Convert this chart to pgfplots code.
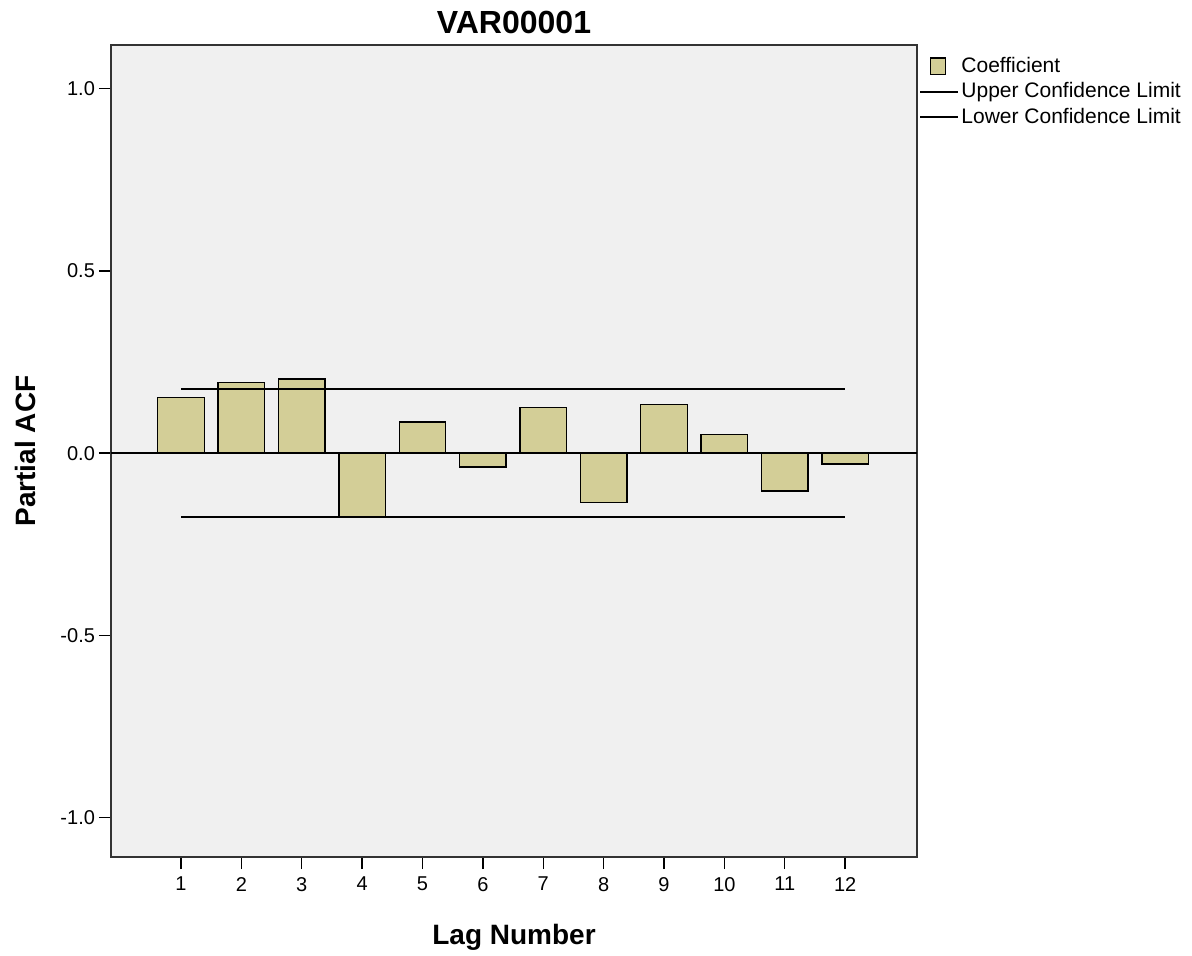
\documentclass[border=0pt]{standalone}
\usepackage{fontspec}
\setmainfont{Liberation Sans}
\usepackage{pgfplots}
\pgfplotsset{compat=1.18}
\definecolor{panel}{HTML}{F0F0F0}
\definecolor{coef}{HTML}{D3CE97}
\definecolor{frame}{HTML}{333333}
\pgfplotsset{
  linelegend/.style={legend image code/.code={\draw[##1] (0pt,0pt) -- (19pt,0pt);}},
  boxlegend/.style={legend image code/.code={\draw[##1] (5pt,-4pt) rectangle (12.5pt,4.2pt);}},
}

\begin{document}
\begin{tikzpicture}
\begin{axis}[
  scale only axis, width=403pt, height=406pt,
  xmin=-0.16, xmax=13.19, ymin=-1.108, ymax=1.12,
  axis background/.style={fill=panel},
  axis line style={frame, line width=0.8pt},
  xtick={1,...,12}, ytick={-1,-0.5,0,0.5,1},
  xtick pos=bottom, ytick pos=left,
  tick align=outside, major tick length=6pt,
  tick style={black, line width=0.7pt},
  /pgf/number format/assume math mode=true,
  yticklabel style={/pgf/number format/fixed, /pgf/number format/fixed zerofill, /pgf/number format/precision=1, xshift=1.5pt},
  xticklabel style={yshift=-0.5pt},
  tick label style={font=\fontsize{10}{12}\selectfont},
  title={VAR00001},
  every axis title shift=0pt,
  title style={at={([yshift=11.5pt]axis description cs:0.5,1)}, anchor=center, font=\bfseries\fontsize{16}{18}\selectfont},
  xlabel={Lag Number}, ylabel={Partial ACF},
  xlabel style={at={([yshift=-40pt]axis description cs:0.5,0)}, anchor=center, font=\bfseries\fontsize{14}{16}\selectfont},
  ylabel style={at={([xshift=-43pt]axis description cs:0,0.5)}, anchor=center, font=\bfseries\fontsize{14}{16}\selectfont},
  legend style={at={(axis description cs:1,1)}, anchor=north west, xshift=0pt, yshift=-3pt, draw=none, fill=none,
    font=\fontsize{10.5}{12}\selectfont, row sep=-0.5pt, inner sep=1pt,
    nodes={inner xsep=1pt}},
  legend cell align=left,
]
\addplot[ybar, bar width=0.77, fill=coef, draw=black, line width=0.7pt, boxlegend]
  coordinates {(1,0.153) (2,0.194) (3,0.204) (4,-0.173) (5,0.086) (6,-0.038)
               (7,0.125) (8,-0.135) (9,0.134) (10,0.052) (11,-0.104) (12,-0.030)};
\addlegendentry{Coefficient}
\addplot[black, line width=1pt, forget plot] coordinates {(-0.16,0) (13.19,0)};
\addplot[black, line width=1pt, linelegend] coordinates {(1,0.175) (12,0.175)};
\addlegendentry{Upper Confidence Limit}
\addplot[black, line width=1pt, linelegend] coordinates {(1,-0.175) (12,-0.175)};
\addlegendentry{Lower Confidence Limit}
\end{axis}
\pgfresetboundingbox
\path (-55.5pt,-49pt) rectangle (540.5pt,428.5pt);
\end{tikzpicture}
\end{document}
